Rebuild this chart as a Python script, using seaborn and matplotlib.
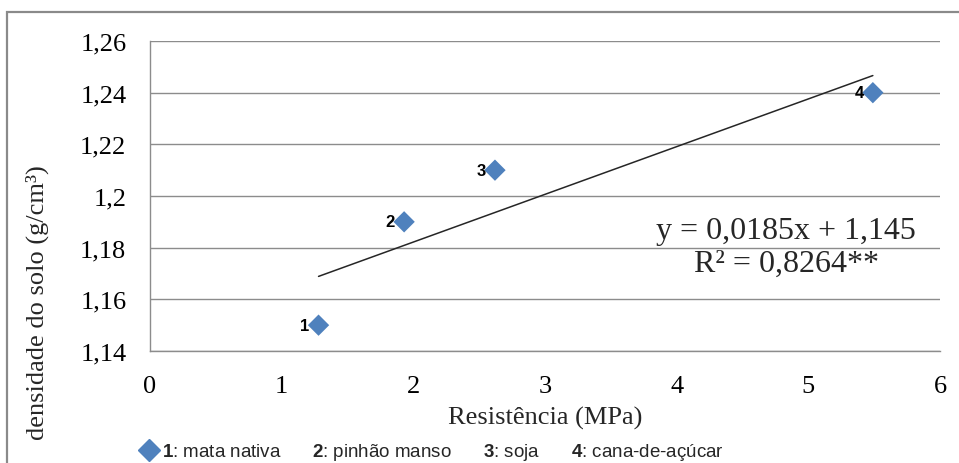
import matplotlib
matplotlib.use("Agg")
import matplotlib.pyplot as plt
import seaborn as sns
import numpy as np
import pandas as pd
from matplotlib.lines import Line2D
from matplotlib.patches import Rectangle

# ---- data ----
resistencia = [1.28, 1.93, 2.62, 5.49]          # MPa
densidade = [1.15, 1.19, 1.21, 1.24]            # g/cm3
point_labels = ["1", "2", "3", "4"]
legend_names = ["mata nativa", "pinhão manso", "soja", "cana-de-açúcar"]
x_ticks = [0, 1, 2, 3, 4, 5, 6]
y_ticks = [1.14, 1.16, 1.18, 1.20, 1.22, 1.24, 1.26]
y_tick_labels = ["1,14", "1,16", "1,18", "1,2", "1,22", "1,24", "1,26"]
x_label = "Resistência (MPa)"
y_label = "densidade do solo (g/cm³)"
equation_text = "y = 0,0185x + 1,145\nR² = 0,8264**"

sns.set_theme(style="white")
plt.rcParams["font.family"] = ["Liberation Serif", "DejaVu Serif"]
plt.rcParams["mathtext.fontset"] = "custom"
plt.rcParams["mathtext.rm"] = "Liberation Sans"
plt.rcParams["mathtext.bf"] = "Liberation Sans:bold"

W, H = 959, 464
fig = plt.figure(figsize=(W / 100, H / 100), dpi=100)
fig.patch.set_facecolor("white")
ax = fig.add_axes([150 / W, 112 / H, 790 / W, 310 / H])

df = pd.DataFrame({"res": resistencia, "dens": densidade, "lab": point_labels})

sns.regplot(data=df, x="res", y="dens", scatter=False, ci=None, ax=ax,
            line_kws=dict(color="#262626", lw=1.1, zorder=2))
sns.scatterplot(data=df, x="res", y="dens", marker="D", s=118, color="#4F81BD",
                edgecolor="none", ax=ax, zorder=3, legend=False)

for xv, yv, lab in zip(df["res"], df["dens"], df["lab"]):
    ax.annotate(lab, (xv, yv), xytext=(-6.5, 0), textcoords="offset points",
                ha="right", va="center", fontsize=12, fontweight="bold",
                family="Liberation Sans", color="black")

ax.set_xlim(0, 6)
ax.set_ylim(1.14, 1.26)
ax.set_xticks(x_ticks)
ax.set_xticklabels([str(t) for t in x_ticks])
ax.set_yticks(y_ticks)
ax.set_yticklabels(y_tick_labels)
ax.grid(axis="y", color="#8c8c8c", lw=1)
ax.grid(axis="x", visible=False)
for s in ["top", "right"]:
    ax.spines[s].set_visible(False)
for s in ["left", "bottom"]:
    ax.spines[s].set_color("#8c8c8c")
    ax.spines[s].set_linewidth(1)
ax.tick_params(length=0, pad=17, labelsize=19, labelcolor="black")
ax.set_xlabel("")
ax.set_ylabel("")

fig.text(545 / W, 1 - 418 / H, x_label, ha="center", va="center", fontsize=19)
fig.text(37 / W, 1 - 303 / H, y_label, rotation=90, ha="center", va="center", fontsize=19)
fig.text(786 / W, 1 - 248 / H, equation_text, ha="center", va="center",
         fontsize=23, linespacing=1.2)

handles = [Line2D([], [], marker="D", color="#4F81BD", ls="none", markersize=11)] + \
          [Line2D([], [], ls="none") for _ in range(3)]
labels = [rf"$\mathbf{{{n}}}$: {name}" for n, name in zip(point_labels, legend_names)]
fig.legend(handles, labels, loc="center left", bbox_to_anchor=(141 / W, 1 - 453 / H),
           ncol=4, frameon=False, prop={"family": "Liberation Sans", "size": 13.5},
           handlelength=0.8, handletextpad=0.3, columnspacing=0.55,
           borderaxespad=0, borderpad=0)

fig.add_artist(Rectangle((7 / W, -0.2), 1.2, 1 - 13 / H + 0.2, transform=fig.transFigure,
                         fill=False, edgecolor="#8a8a8a", lw=1.6, clip_on=False))

fig.savefig("out.png", dpi=100)
